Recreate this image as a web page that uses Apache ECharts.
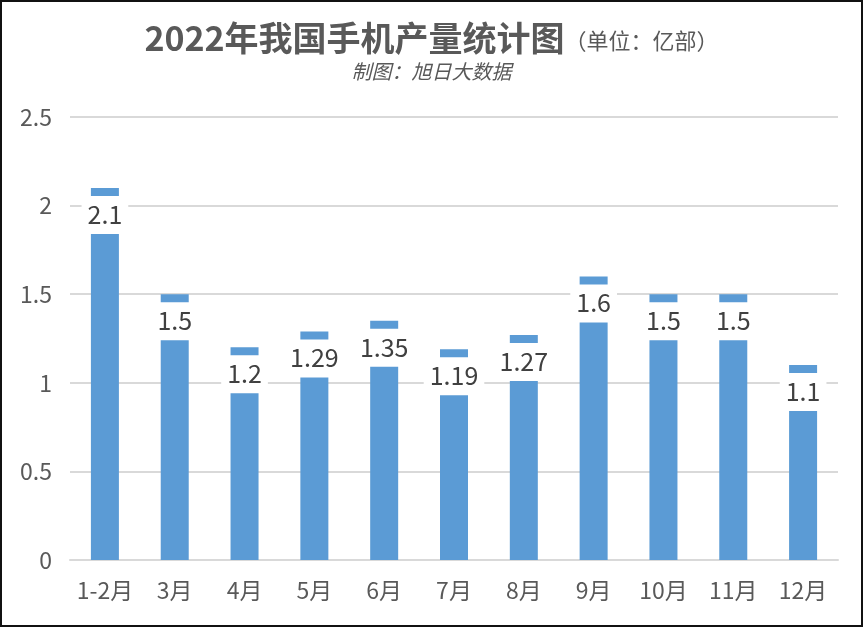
<!DOCTYPE html>
<html>
<head>
<meta charset="utf-8">
<script src="https://cdn.jsdelivr.net/npm/echarts@6/dist/echarts.min.js"></script>
<style>
  html, body { margin: 0; padding: 0; background: #fff; }
  #frame { position: absolute; left: 0; top: 0; width: 863px; height: 627px; box-sizing: border-box; border: 2px solid #111; }
  #chart { width: 863px; height: 627px; }
</style>
</head>
<body>
<div id="chart"></div>
<div id="frame"></div>
<script>
// 2022年我国手机产量（亿部）
const months = ['1-2月', '3月', '4月', '5月', '6月', '7月', '8月', '9月', '10月', '11月', '12月'];
const output = [2.1, 1.5, 1.2, 1.29, 1.35, 1.19, 1.27, 1.6, 1.5, 1.5, 1.1];
const yTicks = [0, 0.5, 1, 1.5, 2, 2.5];

const fontCN = '"Noto Sans CJK SC", "Open Sans", sans-serif';

const chart = echarts.init(document.getElementById('chart'));
chart.setOption({
    backgroundColor: '#fff',
    animation: false,
    title: {
        text: '{main|2022年我国手机产量统计图}{unit|（单位：亿部）}',
        subtext: '制图：旭日大数据',
        left: 'center',
        top: 16,
        itemGap: 6,
        textStyle: {
            rich: {
                main: { fontSize: 34, fontWeight: 'bold', color: '#595959', fontFamily: fontCN },
                unit: { fontSize: 22, fontWeight: 'normal', color: '#595959', fontFamily: fontCN, padding: [6, 0, 0, 0] }
            }
        },
        subtextStyle: {
            fontSize: 20, fontStyle: 'italic', color: '#595959', fontFamily: fontCN
        }
    },
    grid: { left: 70, right: 25, top: 117, bottom: 67, containLabel: false },
    xAxis: {
        type: 'category',
        data: months,
        axisLine: { lineStyle: { color: '#d9d9d9', width: 2 } },
        axisTick: { show: false },
        axisLabel: { interval: 0, color: '#595959', fontSize: 23, fontFamily: fontCN, margin: 19 }
    },
    yAxis: {
        type: 'value',
        min: yTicks[0],
        max: yTicks[yTicks.length - 1],
        interval: 0.5,
        axisLine: { show: false },
        axisTick: { show: false },
        axisLabel: { color: '#595959', fontSize: 23, fontFamily: fontCN, margin: 18 },
        splitLine: { lineStyle: { color: '#d9d9d9', width: 2 } }
    },
    series: [{
        type: 'bar',
        data: output,
        barWidth: 28,
        itemStyle: { color: '#5b9bd5' },
        label: {
            show: true,
            position: 'insideTop',
            distance: 8,
            color: '#404040',
            fontSize: 25,
            fontFamily: fontCN,
            backgroundColor: '#fff',
            padding: [6, 6, 7, 6],
            formatter: p => String(p.value)
        }
    }]
});
</script>
</body>
</html>
